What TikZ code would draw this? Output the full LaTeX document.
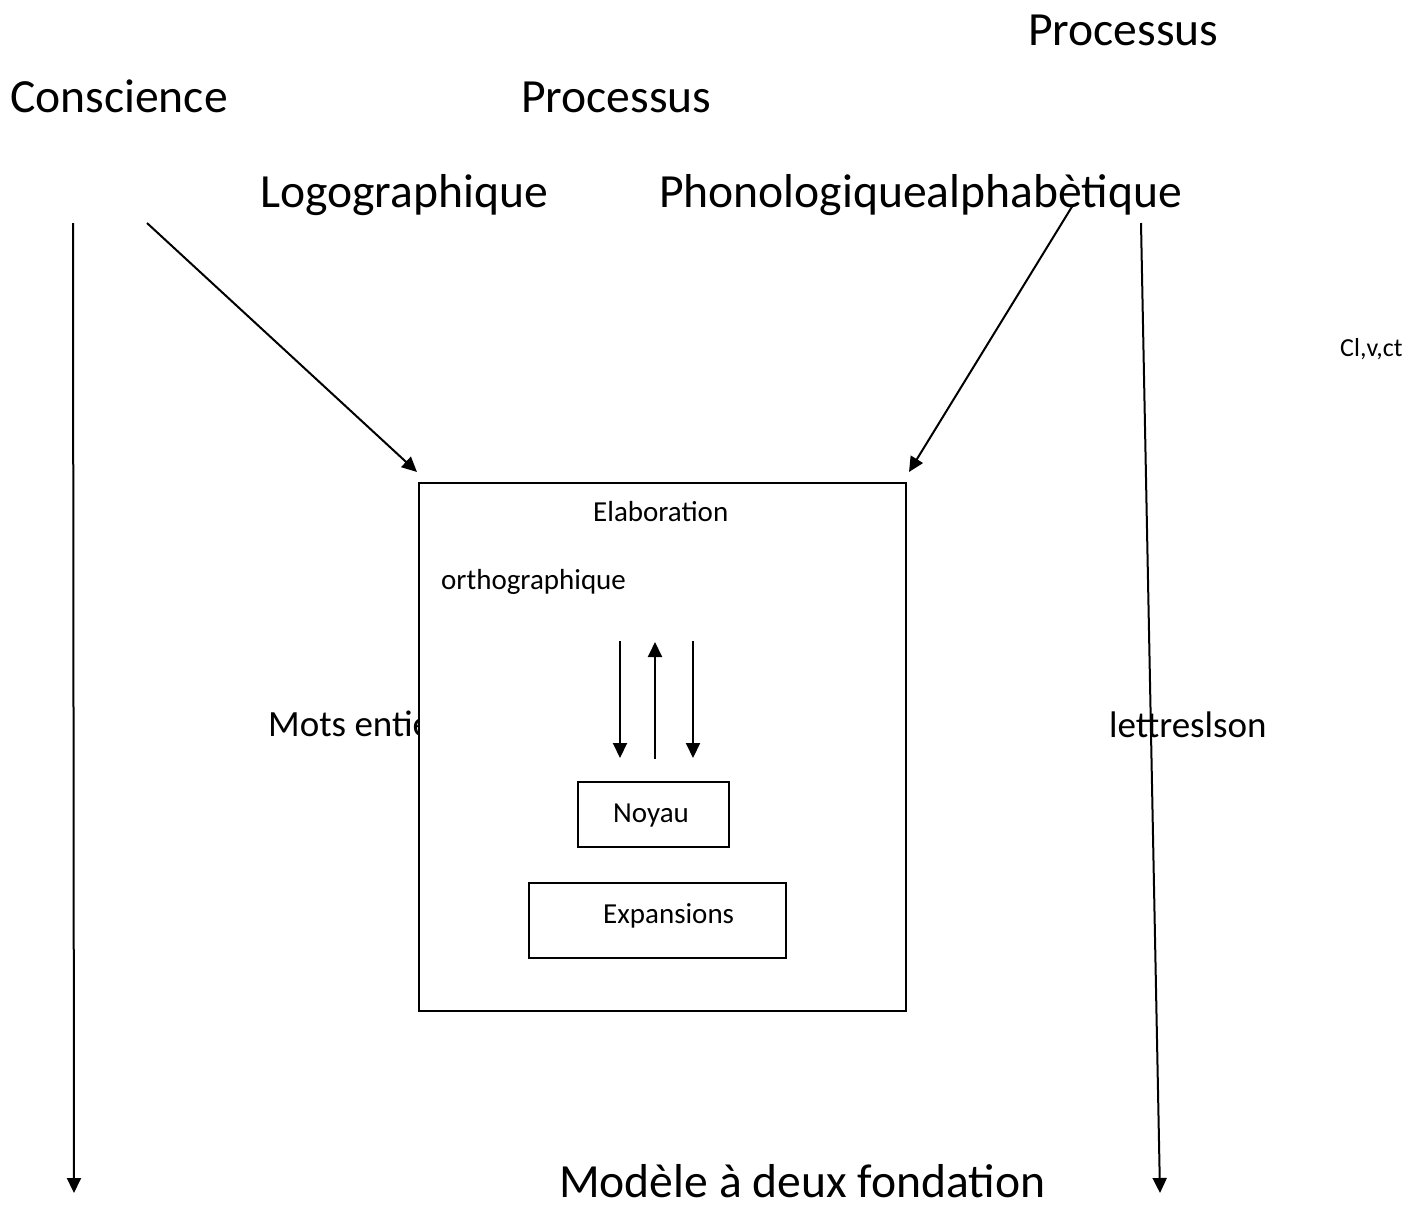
\documentclass[tikz,border=0pt]{standalone}
\usepackage{fontspec}
\setmainfont{Carlito}
\usetikzlibrary{arrows.meta}
\begin{document}
\begin{tikzpicture}[x=1pt,y=-1pt,
  big/.style={font=\fontsize{47.6}{56}\selectfont, inner sep=0pt, anchor=base west},
  mid/.style={font=\fontsize{37}{44}\selectfont, inner sep=0pt, anchor=base west},
  small/.style={font=\fontsize{29}{34}\selectfont, inner sep=0pt, anchor=base west},
  tiny/.style={font=\fontsize{26}{30}\selectfont, inner sep=0pt, anchor=base west},
  box/.style={draw, line width=2pt, fill=white},
  arr/.style={line width=2pt, -{Triangle[length=15pt,width=14pt]}}]
\useasboundingbox (0,0) rectangle (1405,1208);
\fill[white] (0,0) rectangle (1405,1208);
% texts
\node[big] (proc1) at (1028,45) {Processus};
\node[big] (consc) at (10,112) {Conscience};
\node[big] (proc2) at (521,112) {Processus};
\node[big] (logo) at (260,207) {Logographique};
\node[big] (phono) at (659,207) {Phonologiquealphabètique};
\begin{scope}
\clip (0,0) rectangle (1405,1208);
\node[tiny] (clvc) at (1340,356) {Cl,v,ct};
\end{scope}
\node[mid] (mots) at (268,736) {Mots entiers};
\node[mid] (lettres) at (1109,737) {lettreslson};
\node[big] (modele) at (559,1197) {Modèle à deux fondation};
% main box
\node[box, minimum width=487pt, minimum height=528pt, inner sep=0pt] (elab) at (662.5,747) {};
\node[small] (elabt) at (593,521) {Elaboration};
\node[small] (ortho) at (441,589) {orthographique};
\node[box, minimum width=151pt, minimum height=65pt, inner sep=0pt] (noyau) at (653.5,814.5) {};
\node[small] (noyaut) at (613,822) {Noyau};
\node[box, minimum width=257pt, minimum height=75pt, inner sep=0pt] (exp) at (657.5,920.5) {};
\node[small] (expt) at (603,923) {Expansions};
% coordinates
\coordinate (a1s) at (73,223);
\coordinate (a1e) at (74,1193);
\coordinate (a2s) at (147,223);
\coordinate (a2e) at ([shift={(-1,-10)}]elab.north west);
\coordinate (a3s) at (1073,205);
\coordinate (a3e) at ([shift={(2,-10)}]elab.north east);
\coordinate (a4s) at (1141,223);
\coordinate (a4e) at (1160,1193);
\coordinate (i1s) at (620,641);
\coordinate (i1e) at (620,758);
\coordinate (i2s) at (655,759);
\coordinate (i2e) at (655,642);
\coordinate (i3s) at (693,641);
\coordinate (i3e) at (693,758);
% arrows
\draw[arr] (a1s) -- (a1e);
\draw[arr] (a2s) -- (a2e);
\draw[arr] (a3s) -- (a3e);
\draw[arr] (a4s) -- (a4e);
\draw[arr] (i1s) -- (i1e);
\draw[arr] (i2s) -- (i2e);
\draw[arr] (i3s) -- (i3e);
\end{tikzpicture}
\end{document}
